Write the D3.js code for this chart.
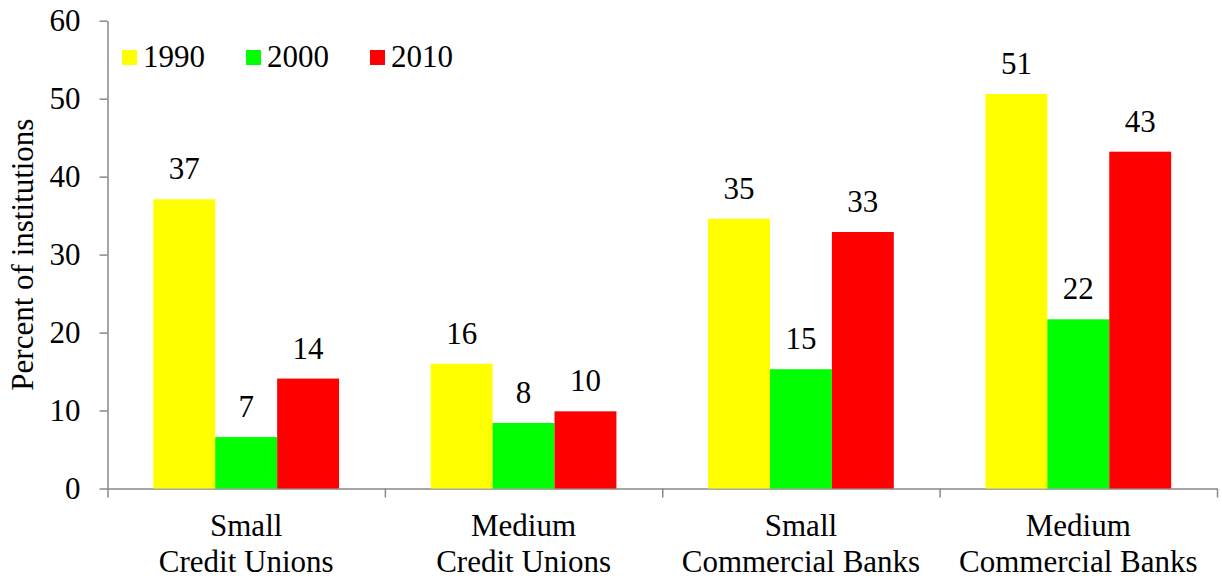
<!DOCTYPE html>
<html>
<head>
<meta charset="utf-8">
<script src="https://cdnjs.cloudflare.com/ajax/libs/d3/7.8.5/d3.min.js"></script>
<style>
  body { margin: 0; background: #fff; }
  svg text { font-family: "Liberation Serif", "Times New Roman", serif; fill: #000; }
  .axis path, .axis line { stroke: #898989; stroke-width: 1.5; }
</style>
</head>
<body>
<div id="chart"></div>
<script>
//size of the svg
var width = 1222;
var height = 582;

//chart data
var categories = ["Small\nCredit Unions", "Medium\nCredit Unions",
                  "Small\nCommercial Banks", "Medium\nCommercial Banks"];
var years = ["1990", "2000", "2010"];
var values1990 = [37.1, 16.0, 34.6, 50.6];
var values2000 = [6.6, 8.4, 15.3, 21.7];
var values2010 = [14.1, 9.9, 32.9, 43.2];
var yTicks = [0, 10, 20, 30, 40, 50, 60];
var yTitle = "Percent of institutions";

var colors = ["#ffff00", "#00ff00", "#ff0000"];

//plot area
var margin = {top: 20.7, right: 5, bottom: 93.5, left: 107.5};
var fontSize = 31;
var serif = "'Liberation Serif', 'Times New Roman', serif";

var svg = d3.select("#chart")
            .append("svg")
            .attr("width", width)
            .attr("height", height)
            .style("font-family", serif);

//build rows from the arrays
var series = [values1990, values2000, values2010];
var rows = categories.map(function(c, i) {
  return {category: c,
          values: years.map(function(y, j) {
            return {year: y, value: series[j][i], color: colors[j]};
          })};
});

//scales
var x0 = d3.scaleBand()
           .domain(categories)
           .range([margin.left, width - margin.right])
           .padding(0);

var x1 = d3.scaleBand()
           .domain(years)
           .range([0, x0.bandwidth()])
           .paddingInner(0)
           .paddingOuter(0.74);

var y = d3.scaleLinear()
          .domain([0, 60])
          .range([height - margin.bottom, margin.top]);

//y axis
var yAxis = svg.append("g")
   .attr("class", "axis")
   .attr("transform", "translate(" + margin.left + ",0)")
   .call(d3.axisLeft(y)
           .tickValues(yTicks)
           .tickSize(8)
           .tickSizeOuter(0)
           .tickPadding(19));
yAxis.attr("font-family", null).attr("font-size", null);
yAxis.selectAll("text")
     .style("font-family", serif)
     .style("font-size", fontSize + "px")
     .attr("fill", "#000");

//x axis, ticks between categories
var xEdge = d3.scaleLinear()
              .domain([0, categories.length])
              .range([margin.left, width - margin.right]);
svg.append("g")
   .attr("class", "axis")
   .attr("transform", "translate(0," + y(0) + ")")
   .call(d3.axisBottom(xEdge)
           .tickValues(d3.range(categories.length + 1))
           .tickSize(9)
           .tickSizeOuter(0)
           .tickFormat(""));

//category labels on two lines
var catLabels = svg.selectAll("text.cat")
   .data(categories)
   .enter()
   .append("text")
   .attr("class", "cat")
   .attr("text-anchor", "middle")
   .style("font-family", serif)
   .style("font-size", fontSize + "px")
   .attr("transform", function(d) {
     return "translate(" + (x0(d) + x0.bandwidth() / 2) + "," + (y(0) + 47.5) + ")";
   });
catLabels.selectAll("tspan")
   .data(function(d) { return d.split("\n"); })
   .enter()
   .append("tspan")
   .attr("x", 0)
   .attr("dy", function(d, i) { return i === 0 ? 0 : "1.15em"; })
   .text(function(d) { return d; });

//y axis title
svg.append("text")
   .text(yTitle)
   .attr("transform", "translate(33," + (y(30)) + ") rotate(-90)")
   .attr("text-anchor", "middle")
   .style("font-family", serif)
   .style("font-size", fontSize + "px");

//bars
var groups = svg.selectAll("g.group")
   .data(rows)
   .enter()
   .append("g")
   .attr("class", "group")
   .attr("transform", function(d) { return "translate(" + x0(d.category) + ",0)"; });

groups.selectAll("rect")
   .data(function(d) { return d.values; })
   .enter()
   .append("rect")
   .attr("x", function(d) { return x1(d.year); })
   .attr("width", x1.bandwidth())
   .attr("y", function(d) { return y(d.value); })
   .attr("height", function(d) { return y(0) - y(d.value); })
   .attr("fill", function(d) { return d.color; });

//value labels
groups.selectAll("text.val")
   .data(function(d) { return d.values; })
   .enter()
   .append("text")
   .attr("class", "val")
   .attr("text-anchor", "middle")
   .attr("x", function(d) { return x1(d.year) + x1.bandwidth() / 2; })
   .attr("y", function(d) { return y(d.value) - 20; })
   .style("font-family", serif)
   .style("font-size", fontSize + "px")
   .text(function(d) { return Math.round(d.value); });

//legend
var legend = svg.selectAll("g.legend")
   .data(years)
   .enter()
   .append("g")
   .attr("class", "legend")
   .attr("transform", function(d, i) { return "translate(" + (122 + i * 124) + ",50)"; });
legend.append("rect")
   .attr("width", 15)
   .attr("height", 15)
   .attr("fill", function(d, i) { return colors[i]; });
legend.append("text")
   .attr("x", 21)
   .attr("y", 16.5)
   .style("font-family", serif)
   .style("font-size", fontSize + "px")
   .text(function(d) { return d; });
</script>
</body>
</html>
